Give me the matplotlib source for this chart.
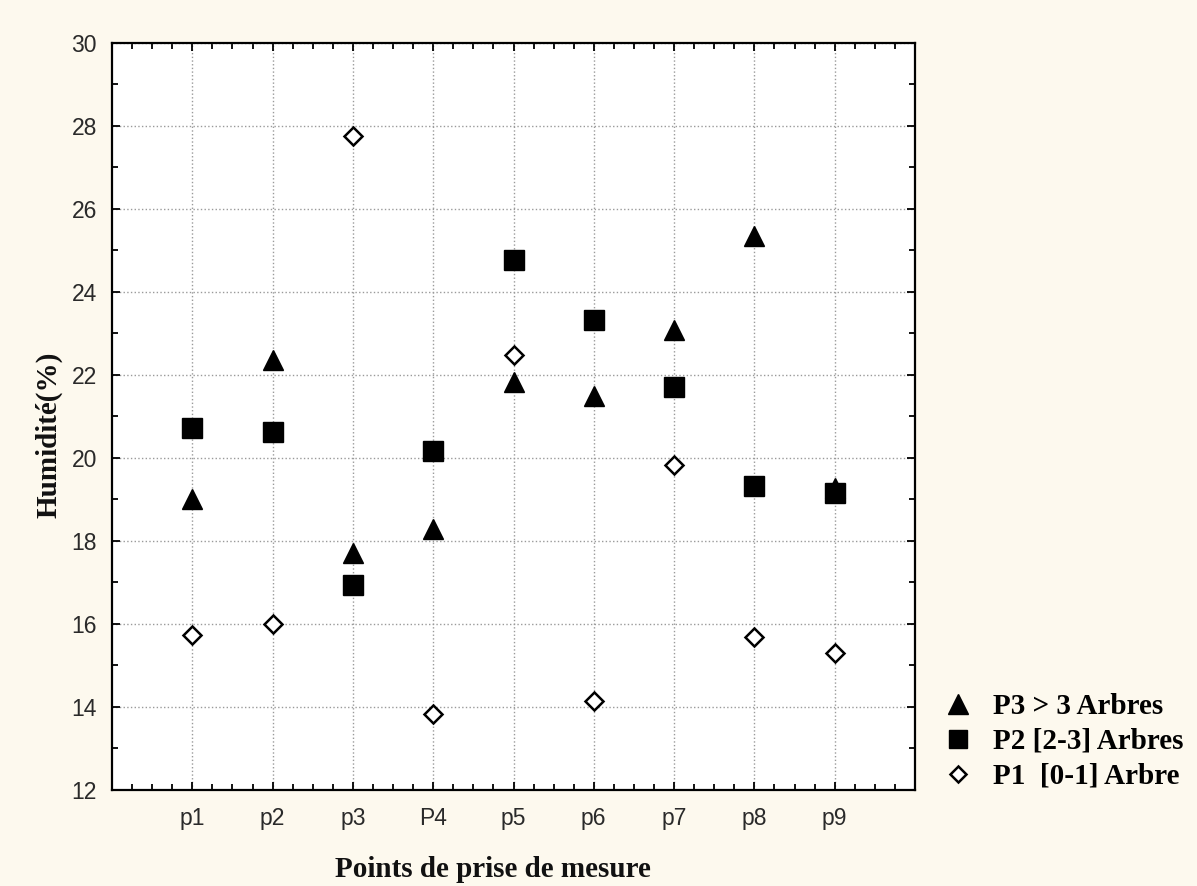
import matplotlib.pyplot as plt
from matplotlib.ticker import MultipleLocator
import numpy as np

# Humidity readings per measuring point
points = ['p1', 'p2', 'p3', 'P4', 'p5', 'p6', 'p7', 'p8', 'p9']
p3_arbres = [19.0, 22.36, 17.71, 18.28, 21.82, 21.5, 23.08, 25.34, 19.27]
p2_arbres = [20.72, 20.63, 16.95, 20.17, 24.77, 23.33, 21.71, 19.33, 19.15]
p1_arbre = [15.73, 16.0, 27.77, 13.83, 22.49, 14.14, 19.83, 15.69, 15.3]

bg = '#fdf9ee'
serif = ['Liberation Serif', 'DejaVu Serif']

fig = plt.figure(figsize=(11.97, 8.86), dpi=100, facecolor=bg)
ax = fig.add_axes([0.0936, 0.1084, 0.6708, 0.8431])
ax.set_facecolor('white')

x = np.arange(1, len(points) + 1)

ax.plot(x, p3_arbres, linestyle='none', marker='^', ms=14, color='black',
        label='P3 > 3 Arbres', zorder=3)
ax.plot(x, p2_arbres, linestyle='none', marker='s', ms=14, color='black',
        label='P2 [2-3] Arbres', zorder=3)
ax.plot(x, p1_arbre, linestyle='none', marker='D', ms=9, mfc='white',
        mec='black', mew=1.8, label='P1  [0-1] Arbre', zorder=3)

ax.set_xlim(0, 10)
ax.set_ylim(12, 30)
ax.set_xticks(x)
ax.set_xticklabels(points)
ax.xaxis.set_minor_locator(MultipleLocator(0.25))
ax.yaxis.set_major_locator(MultipleLocator(2))
ax.yaxis.set_minor_locator(MultipleLocator(1))

ax.tick_params(which='both', direction='in', top=True, right=True,
               color='black', width=1.3, labelsize=16.5,
               labelcolor='#2a2a2a', labelfontfamily='Liberation Sans')
ax.tick_params(which='major', length=6)
ax.tick_params(which='minor', length=4)
ax.tick_params(axis='x', which='major', pad=12)
ax.tick_params(axis='y', which='major', pad=11)

for s in ax.spines.values():
    s.set_linewidth(1.6)
    s.set_color('black')

ax.grid(True, which='major', linestyle=':', color='#9a9a9a', linewidth=1.0)
ax.set_axisbelow(True)

ax.set_xlabel('Points de prise de mesure', fontfamily=serif,
              fontweight='bold', fontsize=21, color='#111111')
ax.xaxis.set_label_coords(0.474, -0.088)
ax.set_ylabel('Humidité(%)', fontfamily=serif, fontweight='bold',
              fontsize=21, color='#111111')
ax.yaxis.set_label_coords(-0.062, 0.475)

leg = fig.legend(loc='upper left', bbox_to_anchor=(0.778, 0.231),
                 frameon=False, handlelength=1.0, handletextpad=0.73,
                 labelspacing=0.27, borderaxespad=0,
                 prop={'family': serif, 'weight': 'bold', 'size': 21})
for h, ms in zip(leg.legend_handles, [14, 12.5, 8.5]):
    h.set_markersize(ms)

fig.savefig('out.png', dpi=100, facecolor=bg)
